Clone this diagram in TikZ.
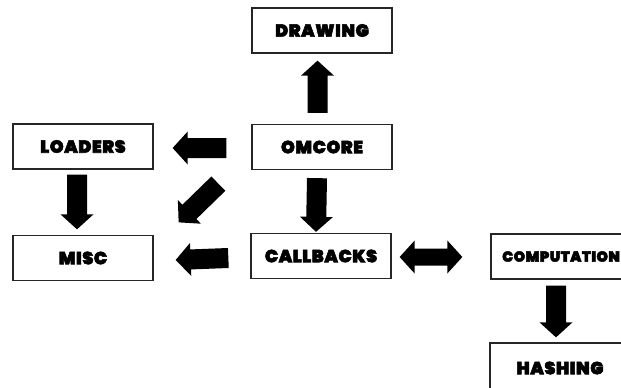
\documentclass[tikz,border=0pt]{standalone}
\usepackage{fontspec}
\usetikzlibrary{calc}
\newfontfamily\boxfont{Poppins Black}[FakeBold=3, LetterSpace=3.5]

% block arrow dimensions
\def\shafthalf{10pt}
\def\headhalf{16.5pt}
\def\headlen{15pt}

% filled block arrow from #1 (tail) to #2 (tip)
\newcommand\blockarrow[2]{%
  \path (#2) coordinate (bt) (#1) coordinate (bs);
  \path ($(bt)!\headlen!(bs)$) coordinate (bh);
  \fill[arrowfill] ($(bs)!\shafthalf!90:(bt)$) -- ($(bh)!\shafthalf!90:(bt)$)
    -- ($(bh)!\headhalf!90:(bt)$) -- (bt) -- ($(bh)!\headhalf!-90:(bt)$)
    -- ($(bh)!\shafthalf!-90:(bt)$) -- ($(bs)!\shafthalf!-90:(bt)$) -- cycle;}

% filled block arrow with heads at both ends
\newcommand\doubleblockarrow[2]{%
  \path (#1) coordinate (da) (#2) coordinate (db);
  \path ($(da)!\headlen!(db)$) coordinate (dh1) ($(db)!\headlen!(da)$) coordinate (dh2);
  \fill[arrowfill] (da) -- ($(dh1)!\headhalf!90:(db)$) -- ($(dh1)!8.5pt!90:(db)$)
    -- ($(dh2)!8.5pt!-90:(da)$) -- ($(dh2)!\headhalf!-90:(da)$) -- (db)
    -- ($(dh2)!\headhalf!90:(da)$) -- ($(dh2)!8.5pt!90:(da)$)
    -- ($(dh1)!8.5pt!-90:(db)$) -- ($(dh1)!\headhalf!-90:(db)$) -- cycle;}

\begin{document}
\begin{tikzpicture}[x=1pt,y=-1pt,
  box/.style={draw=black!85, line width=1.3pt, minimum width=140pt,
    minimum height=45pt, inner sep=0pt,
    font=\boxfont\fontsize{17.5}{17.5}\selectfont},
  smallbox/.style={box, font=\boxfont\fontsize{14.5}{14.5}\selectfont},
  arrowfill/.style={fill=black}]

\clip (0,0) rectangle (621,388);

% modules
\node[box] (drawing) at (322,30.5) {DRAWING};
\node[box] (loaders) at (83,146.5) {LOADERS};
\node[box] (omcore) at (322,147) {OMCORE};
\node[box] (misc) at (83,258) {MISC};
\node[box] (callbacks) at (321,256) {CALLBACKS};
\node[smallbox] (computation) at (561,256.5) {COMPUTATION};
\node[box, minimum height=50pt] (hashing) at (560,368) {HASHING};

% arrow end points
\coordinate (od-s) at ([shift={(-4.5,-11)}]omcore.north);
\coordinate (od-t) at ([shift={(-4.5,7)}]drawing.south);
\coordinate (oc-s) at ([shift={(-5,8)}]omcore.south);
\coordinate (oc-t) at ([shift={(-5,-1)}]callbacks.north);
\coordinate (ol-s) at ([shift={(-25,1)}]omcore.west);
\coordinate (ol-t) at ([shift={(19,1.5)}]loaders.east);
\coordinate (om-s) at ([shift={(-33,13.5)}]omcore.south west);
\coordinate (om-t) at ([shift={(25,-12.5)}]misc.north east);
\coordinate (lm-s) at ([shift={(-6,5)}]loaders.south);
\coordinate (lm-t) at ([shift={(-6,-5.5)}]misc.north);
\coordinate (cm-s) at ([shift={(-22,2)}]callbacks.west);
\coordinate (cm-t) at ([shift={(22,2)}]misc.east);
\coordinate (cc-a) at ([shift={(8,1)}]callbacks.east);
\coordinate (cc-b) at ([shift={(-28,0.5)}]computation.west);
\coordinate (ch-s) at ([shift={(-5,6)}]computation.south);
\coordinate (ch-t) at ([shift={(-4,-5)}]hashing.north);

% dependencies
\blockarrow{od-s}{od-t}
\blockarrow{oc-s}{oc-t}
\blockarrow{ol-s}{ol-t}
\blockarrow{om-s}{om-t}
\blockarrow{lm-s}{lm-t}
\blockarrow{cm-s}{cm-t}
\doubleblockarrow{cc-a}{cc-b}
\blockarrow{ch-s}{ch-t}
\end{tikzpicture}
\end{document}
